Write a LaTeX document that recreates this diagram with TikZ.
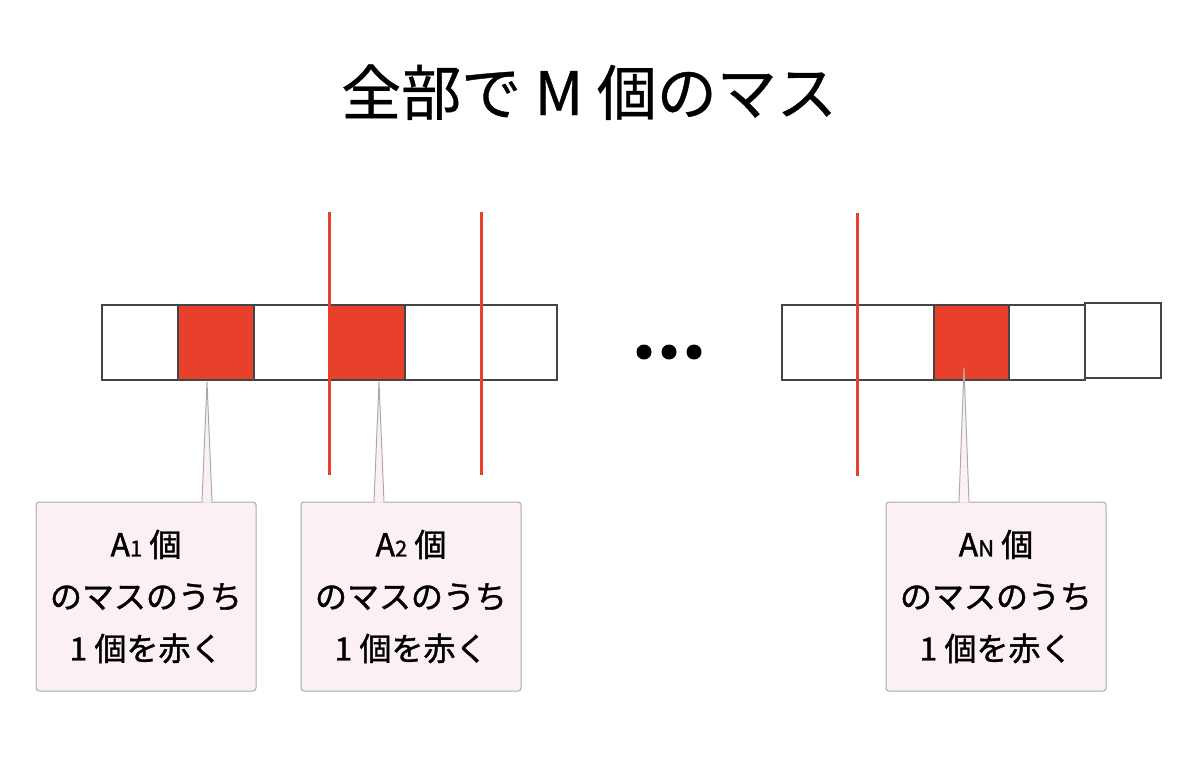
\documentclass[tikz,border=0pt]{standalone}
\usepackage{fontspec}
\usetikzlibrary{calc}
\setmainfont{Noto Sans CJK JP}
\newfontfamily\notefont[FakeBold=1.2]{Noto Sans CJK JP}
\newfontfamily\titlefont[FakeBold=0.6]{Noto Sans CJK JP}
\definecolor{cellred}{HTML}{E8402A}
\definecolor{cellline}{HTML}{444444}
\definecolor{notefill}{HTML}{FCF0F7}
\definecolor{noteline}{HTML}{AAAAAA}
\newcommand{\smallidx}[1]{{\fontsize{22}{22}\selectfont #1}}
\tikzset{
  cell/.style={draw=cellline, line width=2pt, minimum width=75.83pt, minimum height=75pt, inner sep=0pt, outer sep=0pt, fill=white},
  redcell/.style={cell, fill=cellred},
  redline/.style={draw=cellred, line width=3pt},
  note/.style={draw=noteline, fill=notefill, line width=1pt, rounded corners=3pt, minimum width=220pt, minimum height=189pt, inner sep=0pt, align=center, font=\notefont\fontsize{32}{52}\selectfont},
  pointerfill/.style={fill=notefill},
  pointerline/.style={draw=noteline, line width=1pt},
  dot/.style={circle, fill=black, minimum size=15pt, inner sep=0pt}
}
\begin{document}
\begin{tikzpicture}[x=1pt,y=-1pt]
\useasboundingbox (0,0) rectangle (1200,772);
% title
\node[anchor=base, font=\titlefont\fontsize{60}{60}\selectfont] (title) at (589,115) {全部で M 個のマス};
% left row of cells
\node[cell]    (c1) at (139.9,342.5) {};
\node[redcell] (c2) at (215.8,342.5) {};
\node[cell]    (c3) at (291.6,342.5) {};
\node[redcell] (c4) at (367.4,342.5) {};
\node[cell]    (c5) at (443.3,342.5) {};
\node[cell]    (c6) at (519.1,342.5) {};
% dots
\node[dot] (d1) at (644,352) {};
\node[dot] (d2) at (669,352) {};
\node[dot] (d3) at (694,352) {};
% right row of cells
\node[cell]    (r1) at (819.9,342.5) {};
\node[cell]    (r2) at (895.8,342.5) {};
\node[redcell] (r3) at (971.6,342.5) {};
\node[cell]    (r4) at (1047.4,342.5) {};
\node[cell]    (r5) at (1122.7,340.5) {};
% red separator lines
\coordinate (s1a) at (329.5,212); \coordinate (s1b) at (329.5,475);
\coordinate (s2a) at (481.2,212); \coordinate (s2b) at (481.2,475);
\coordinate (s3a) at (857.5,213); \coordinate (s3b) at (857.5,476);
\draw[redline] (s1a) -- (s1b);
\draw[redline] (s2a) -- (s2b);
\draw[redline] (s3a) -- (s3b);
% notes
\node[note] (n1) at (146,596.5) {A\smallidx{1} 個\\のマスのうち\\1 個を赤く};
\node[note] (n2) at (411,596.5) {A\smallidx{2} 個\\のマスのうち\\1 個を赤く};
\node[note] (n3) at (996,596.5) {A\smallidx{N} 個\\のマスのうち\\1 個を赤く};
% pointers
\coordinate (t1) at (207,382);
\coordinate (t2) at (379,382);
\coordinate (t3) at (964,368);
\foreach \t/\n in {t1/n1, t2/n2, t3/n3}{
  \fill[pointerfill] ($(\n.north -| \t)+(-4.5,1)$) -- (\t) -- ($(\n.north -| \t)+(4.5,1)$) -- cycle;
  \draw[pointerline] ($(\n.north -| \t)+(-5,0)$) -- (\t) -- ($(\n.north -| \t)+(5,0)$);
}
\end{tikzpicture}
\end{document}
